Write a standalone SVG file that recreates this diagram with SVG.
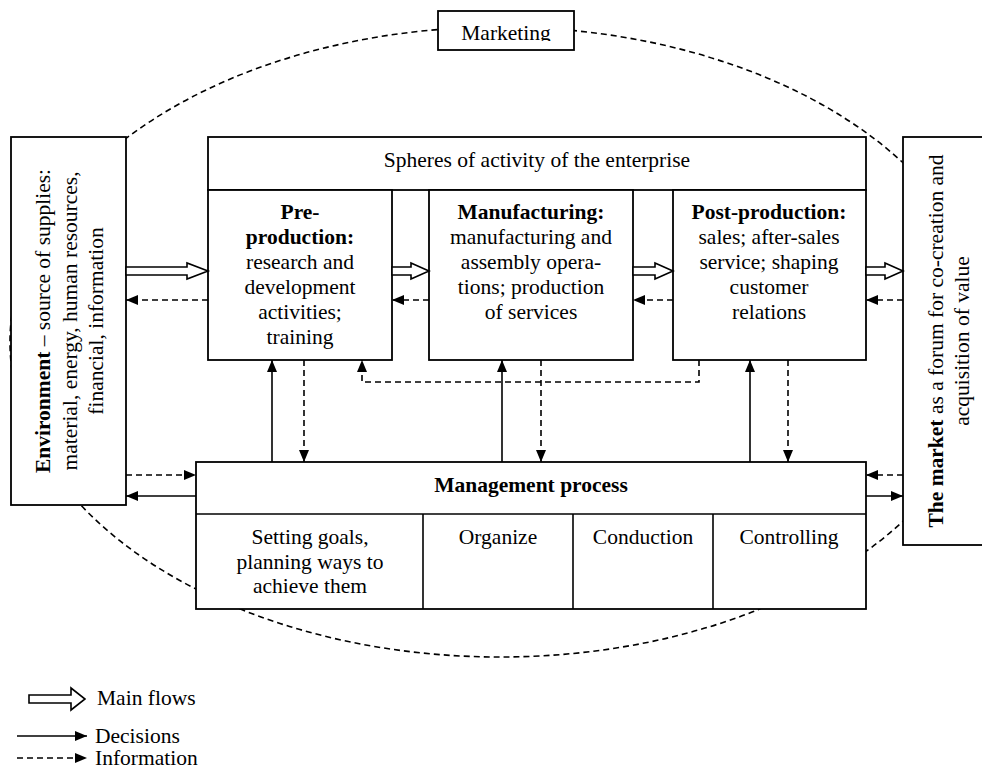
<svg xmlns="http://www.w3.org/2000/svg" width="982" height="771" viewBox="0 0 982 771" font-family="'Liberation Serif', 'DejaVu Serif', 'Times New Roman', serif">
<style>
text{font-family:"Liberation Serif","DejaVu Serif","Times New Roman",serif;font-size:21.5px;fill:#000}
.c{text-anchor:middle}
.b{font-weight:bold}
.box{fill:#fff;stroke:#000;stroke-width:1.8}
.sol{fill:none;stroke:#000;stroke-width:1.6}
.dsh{fill:none;stroke:#000;stroke-width:1.6;stroke-dasharray:6 4}
.hol{fill:#fff;stroke:#000;stroke-width:1.6;stroke-linejoin:miter}
</style>
<defs>
<marker id="ah" markerWidth="12" markerHeight="10" refX="12" refY="5" orient="auto" markerUnits="userSpaceOnUse"><path d="M0,0 L12,5 L0,10 z" fill="#000"/></marker>
<clipPath id="mclip"><rect x="438" y="11" width="136" height="30"/></clipPath>
</defs>
<rect width="982" height="771" fill="#fff"/>
<g id="boundary"><ellipse cx="500" cy="342" rx="490" ry="315" class="dsh"/></g>

<g id="marketing"><rect class="box" x="438" y="11" width="136" height="39"/><text class="c" x="506" y="40" clip-path="url(#mclip)">Marketing</text></g>

<g id="environment"><rect class="box" x="11" y="137" width="115" height="368"/>
<text class="c" transform="translate(50,321) rotate(-90)"><tspan class="b">Environment</tspan> – source of supplies:<tspan x="0" dy="26.5">material, energy, human resources,</tspan><tspan x="0" dy="26.5">financial, information</tspan></text></g>

<g id="market"><rect class="box" x="903" y="137" width="85" height="408"/>
<text class="c" transform="translate(943,341) rotate(-90)"><tspan class="b">The market</tspan> as a forum for co-creation and<tspan x="0" dy="26">acquisition of value</tspan></text></g>

<g id="spheres"><rect class="box" x="208" y="137" width="658" height="53"/><text class="c" x="537" y="167">Spheres of activity of the enterprise</text></g>

<g id="preproduction"><rect class="box" x="208" y="190" width="184" height="170"/>
<text class="c" x="300" y="219"><tspan class="b">Pre-</tspan><tspan class="b" x="300" dy="25">production:</tspan><tspan x="300" dy="25">research and</tspan><tspan x="300" dy="25">development</tspan><tspan x="300" dy="25">activities;</tspan><tspan x="300" dy="25">training</tspan></text></g>

<g id="manufacturing"><rect class="box" x="429" y="190" width="204" height="170"/>
<text class="c" x="531" y="219"><tspan class="b">Manufacturing:</tspan><tspan x="531" dy="25">manufacturing and</tspan><tspan x="531" dy="25">assembly opera-</tspan><tspan x="531" dy="25">tions; production</tspan><tspan x="531" dy="25">of services</tspan></text></g>

<g id="postproduction"><rect class="box" x="673" y="190" width="193" height="170"/>
<text class="c" x="769" y="219"><tspan class="b">Post-production:</tspan><tspan x="769" dy="25">sales; after-sales</tspan><tspan x="769" dy="25">service; shaping</tspan><tspan x="769" dy="25">customer</tspan><tspan x="769" dy="25">relations</tspan></text></g>

<g id="management"><rect class="box" x="196" y="462" width="670" height="147"/>
<line class="sol" x1="196" y1="514" x2="866" y2="514"/>
<line class="sol" x1="423" y1="514" x2="423" y2="609"/>
<line class="sol" x1="573" y1="514" x2="573" y2="609"/>
<line class="sol" x1="713" y1="514" x2="713" y2="609"/>
<text class="c b" x="531" y="492">Management process</text>
<text class="c" x="310" y="544">Setting goals,<tspan x="310" dy="24.5">planning ways to</tspan><tspan x="310" dy="24.5">achieve them</tspan></text>
<text class="c" x="498" y="544">Organize</text>
<text class="c" x="643" y="544">Conduction</text>
<text class="c" x="789" y="544">Controlling</text></g>

<g id="connectors">
<path class="hol" d="M126,267 H187 V263 L208,271 L187,279 V275 H126 Z"/>
<path class="hol" d="M392,267 H411 V263 L429,271 L411,279 V275 H392 Z"/>
<path class="hol" d="M633,267 H655 V263 L673,271 L655,279 V275 H633 Z"/>
<path class="hol" d="M866,267 H885 V263 L903,271 L885,279 V275 H866 Z"/>
<line class="dsh" x1="208" y1="300" x2="126" y2="300" marker-end="url(#ah)"/>
<line class="dsh" x1="429" y1="300" x2="392" y2="300" marker-end="url(#ah)"/>
<line class="dsh" x1="673" y1="300" x2="633" y2="300" marker-end="url(#ah)"/>
<line class="dsh" x1="903" y1="300" x2="866" y2="300" marker-end="url(#ah)"/>
<line class="sol" x1="272" y1="462" x2="272" y2="360" marker-end="url(#ah)"/>
<line class="dsh" x1="304" y1="360" x2="304" y2="462" marker-end="url(#ah)"/>
<line class="sol" x1="502" y1="462" x2="502" y2="360" marker-end="url(#ah)"/>
<line class="dsh" x1="541" y1="360" x2="541" y2="462" marker-end="url(#ah)"/>
<line class="sol" x1="750" y1="462" x2="750" y2="360" marker-end="url(#ah)"/>
<line class="dsh" x1="788" y1="360" x2="788" y2="462" marker-end="url(#ah)"/>
<path class="dsh" d="M699,360 V382 H362 V360" marker-end="url(#ah)"/>
<line class="dsh" x1="126" y1="475" x2="196" y2="475" marker-end="url(#ah)"/>
<line class="sol" x1="196" y1="496" x2="126" y2="496" marker-end="url(#ah)"/>
<line class="dsh" x1="903" y1="475" x2="866" y2="475" marker-end="url(#ah)"/>
<line class="sol" x1="866" y1="496" x2="903" y2="496" marker-end="url(#ah)"/>
</g>

<g id="legend">
<path class="hol" d="M29,695 H71 V688 L85,699 L71,710 V703 H29 Z"/>
<text x="97" y="705">Main flows</text>
<line class="sol" x1="17" y1="736" x2="87" y2="736" marker-end="url(#ah)"/>
<text x="95" y="743">Decisions</text>
<line class="dsh" x1="17" y1="758" x2="87" y2="758" marker-end="url(#ah)"/>
<text x="95" y="765">Information</text>
</g>
</svg>
